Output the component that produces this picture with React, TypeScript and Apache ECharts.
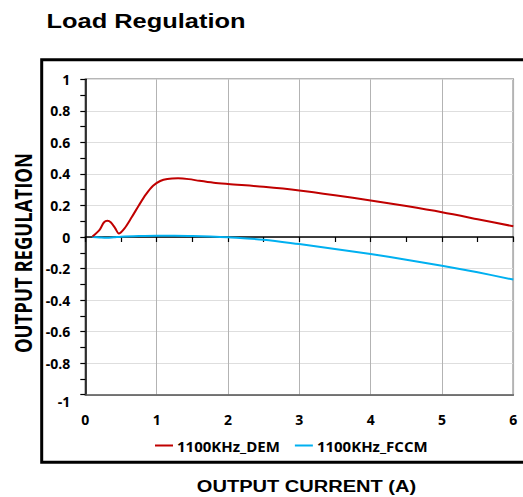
import React, { useEffect, useRef } from "react";
import * as echarts from "echarts";

const demX = [0.1, 0.2, 0.26, 0.31, 0.36, 0.42, 0.47, 0.55, 0.65, 0.75, 0.85, 0.95, 1.05, 1.15, 1.3, 1.45, 1.6, 1.8, 2.0, 2.5, 3.0, 3.5, 4.0, 4.5, 5.0, 5.5, 6.0];
const demY = [0.003, 0.045, 0.092, 0.103, 0.092, 0.055, 0.022, 0.055, 0.125, 0.2, 0.27, 0.325, 0.355, 0.368, 0.372, 0.367, 0.356, 0.344, 0.336, 0.318, 0.295, 0.265, 0.232, 0.196, 0.157, 0.113, 0.068];
const fccmX = [0.1, 0.2, 0.3, 0.4, 0.5, 0.75, 1.0, 1.25, 1.5, 1.75, 2.0, 2.5, 3.0, 3.5, 4.0, 4.5, 5.0, 5.5, 6.0];
const fccmY = [0, -0.003, -0.005, -0.002, 0.002, 0.006, 0.008, 0.008, 0.006, 0.003, -0.002, -0.017, -0.045, -0.076, -0.108, -0.144, -0.182, -0.224, -0.27];
const seriesNames = ["1100KHz_DEM", "1100KHz_FCCM"];
const titleText = "Load Regulation";
const xTitle = "OUTPUT CURRENT (A)";
const yTitle = "OUTPUT REGULATION";

const LABEL_FONT = "'Open Sans', 'Noto Sans', sans-serif";

export default function App() {
  const ref = useRef<HTMLDivElement>(null);
  useEffect(() => {
    if (!ref.current) return;
    const chart = echarts.init(ref.current, null, { renderer: "svg" });
    const labelStyle = {
      fontFamily: LABEL_FONT,
      fontWeight: "bold" as const,
      fontSize: 14,
      color: "#000",
    };
    chart.setOption({
      animation: false,
      backgroundColor: "#fff",
      grid: {
        left: 85.3,
        right: 9.7,
        top: 79.3,
        bottom: 102.3,
        show: true,
        borderColor: "#6f6f6f",
        borderWidth: 1.5,
        containLabel: false,
      },
      legend: {
        left: 155,
        top: 438,
        padding: 0,
        itemWidth: 18,
        itemHeight: 2,
        itemGap: 15,
        icon: "rect",
        textStyle: { ...labelStyle, fontSize: 15, padding: [0, 0, 0, -1] },
        data: seriesNames,
      },
      xAxis: [
        {
          type: "value",
          min: 0,
          max: 6,
          interval: 1,
          position: "bottom",
          axisLine: { show: true, onZero: false, lineStyle: { color: "#595959", width: 1.5 } },
          axisTick: { show: false },
          axisLabel: { ...labelStyle, margin: 18 },
          splitLine: { show: true, lineStyle: { color: "#b3b3b3", width: 1 } },
        },
        {
          type: "value",
          min: 0,
          max: 6,
          interval: 0.5,
          position: "bottom",
          axisLine: { show: true, onZero: true, lineStyle: { color: "#000", width: 1.5 } },
          axisTick: { show: true, inside: false, length: 5, lineStyle: { color: "#000", width: 1.2 } },
          axisLabel: { show: false },
          splitLine: { show: false },
        },
      ],
      yAxis: {
        type: "value",
        min: -1,
        max: 1,
        interval: 0.2,
        axisLine: { show: true, onZero: false, lineStyle: { color: "#000", width: 1.5 } },
        axisTick: { show: true, length: 5, lineStyle: { color: "#000", width: 1.2 } },
        minorTick: { show: true, splitNumber: 2, length: 5, lineStyle: { color: "#000", width: 1.2 } },
        axisLabel: {
          ...labelStyle,
          margin: 15,
          formatter: (v: number) => {
            const s = String(Number(v.toFixed(1)));
            return v <= -0.99 ? "{b|" + s + "}" : s;
          },
          rich: {
            b: { ...labelStyle, padding: [14, 0, 0, 0] },
          },
        },
        splitLine: { show: true, lineStyle: { color: "#dedede", width: 1 } },
      },
      series: [
        {
          name: seriesNames[0],
          type: "line",
          xAxisIndex: 0,
          data: demX.map((x, i) => [x, demY[i]]),
          smooth: 0.3,
          showSymbol: false,
          symbol: "none",
          lineStyle: { color: "#C00000", width: 2 },
          itemStyle: { color: "#C00000" },
          z: 5,
        },
        {
          name: seriesNames[1],
          type: "line",
          xAxisIndex: 0,
          data: fccmX.map((x, i) => [x, fccmY[i]]),
          smooth: 0.35,
          showSymbol: false,
          symbol: "none",
          lineStyle: { color: "#00B0F0", width: 2 },
          itemStyle: { color: "#00B0F0" },
          z: 4,
        },
      ],
      graphic: [
        {
          type: "rect",
          shape: { x: 41.7, y: 59.7, width: 600, height: 402.5 },
          style: { fill: "none", stroke: "#000", lineWidth: 3 },
          silent: true,
        },
        {
          type: "text",
          x: 46.5,
          y: 21,
          scaleX: 1.24,
          style: {
            text: titleText,
            x: 0,
            y: 0,
            font: "bold 20.5px 'Liberation Sans', Arial, sans-serif",
            fill: "#000",
            textAlign: "left",
            textVerticalAlign: "middle",
          },
        },
        {
          type: "text",
          x: 306.5,
          y: 486,
          scaleX: 1.18,
          style: {
            text: xTitle,
            x: 0,
            y: 0,
            font: "bold 17px 'Liberation Sans', Arial, sans-serif",
            fill: "#000",
            textAlign: "center",
            textVerticalAlign: "middle",
          },
        },
        {
          type: "text",
          x: 23.3,
          y: 253,
          rotation: Math.PI / 2,
          scaleY: 1.26,
          style: {
            text: yTitle,
            x: 0,
            y: 0,
            font: "bold 18.5px 'Open Sans', sans-serif",
            fill: "#000",
            textAlign: "center",
            textVerticalAlign: "middle",
          },
        },
      ],
    });
    return () => chart.dispose();
  }, []);
  return (
    <div
      ref={ref}
      style={{ position: "absolute", left: 0, top: 0, width: 523, height: 497 }}
    />
  );
}
